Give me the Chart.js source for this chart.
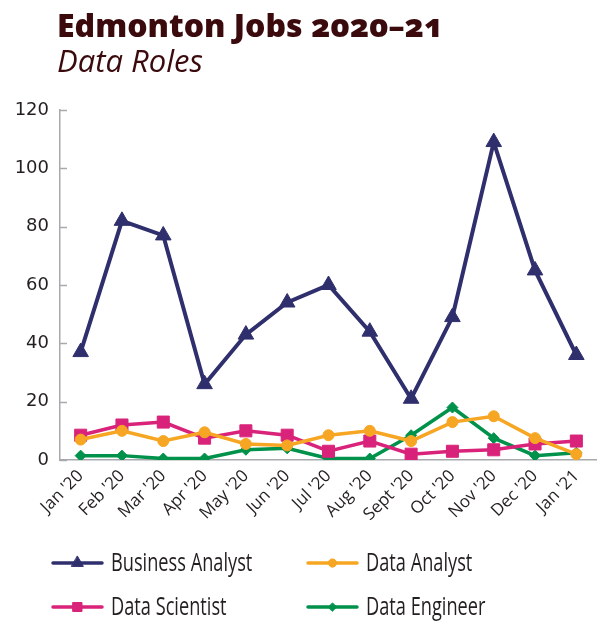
<!DOCTYPE html>
<html><head><meta charset="utf-8">
<script src="https://cdn.jsdelivr.net/npm/chart.js@4.4.1/dist/chart.umd.min.js"></script>
<style>
html,body{margin:0;padding:0;background:#fff;}
#wrap{position:relative;width:597px;height:624px;overflow:hidden}
#title{position:absolute;left:57px;top:3px;font-family:'Open Sans';font-weight:800;font-size:32px;color:#3b0a0d;font-variant-numeric:oldstyle-nums;line-height:44px;white-space:nowrap}
#sub{position:absolute;left:57px;top:39px;font-family:'Open Sans';font-style:italic;font-size:31px;color:#3b0a0d;line-height:42px;white-space:nowrap}
canvas{position:absolute;left:0;top:0}
</style></head><body>
<div id="wrap"><canvas id="c" width="597" height="624"></canvas><div id="title">Edmonton Jobs 2020–21</div><div id="sub">Data Roles</div></div>
<script>
const months = ["Jan '20","Feb '20","Mar '20","Apr '20","May '20","Jun '20","Jul '20","Aug '20","Sept '20","Oct '20","Nov '20","Dec '20","Jan '21"];
const businessAnalyst = [37, 82, 77, 26, 43, 54, 60, 44, 21, 49, 109, 65, 36];
const dataAnalyst     = [7, 10, 6.5, 9.5, 5.5, 5, 8.5, 10, 6.5, 13, 15, 7.5, 2];
const dataScientist   = [8.5, 12, 13, 7.5, 10, 8.5, 3, 6.5, 2, 3, 3.5, 5.5, 6.5];
const dataEngineer    = [1.5, 1.5, 0.5, 0.5, 3.5, 4, 0.5, 0.5, 8.5, 18, 7.5, 1.5, 2.5];
const yTicks = [0, 20, 40, 60, 80, 100, 120];

const TXT = '#231f20';
const AXIS = '#a7a9ac';

function ds(label, data, color, style, radius, width) {
  return { label, data, borderColor: color, backgroundColor: color, pointBackgroundColor: color,
    pointBorderColor: color, pointStyle: style, pointRadius: radius, pointHoverRadius: radius,
    pointBorderWidth: 1, borderWidth: width, tension: 0, fill: false };
}

const legendPlugin = {
  id: 'customLegend',
  afterDraw(chart) {
    const ctx = chart.ctx;
    const spots = [[53, 563], [308, 563], [53, 607], [308, 607]];
    chart.data.datasets.forEach((d, i) => {
      const [x, y] = spots[i];
      ctx.save();
      ctx.strokeStyle = d.borderColor;
      ctx.lineWidth = 3.5;
      ctx.lineCap = 'round';
      ctx.beginPath(); ctx.moveTo(x, y); ctx.lineTo(x + 49, y); ctx.stroke();
      ctx.fillStyle = d.borderColor;
      ctx.lineWidth = 1;
      Chart.helpers.drawPoint(ctx, { pointStyle: d.pointStyle, radius: d.pointRadius * 0.75, rotation: 0, borderWidth: 1 }, x + 24.5, y);
      ctx.fillStyle = TXT;
      ctx.font = '26px "Open Sans"';
      ctx.textBaseline = 'middle';
      ctx.translate(x + 58, y + 1);
      ctx.scale(0.7, 1);
      ctx.fillText(d.label, 0, 0);
      ctx.restore();
    });
  }
};

const tickPlugin = {
  id: 'innerTicks',
  afterDraw(chart) {
    const ctx = chart.ctx, ys = chart.scales.y, left = chart.chartArea.left;
    ctx.save();
    ctx.strokeStyle = AXIS; ctx.lineWidth = 1.5;
    ys.ticks.forEach(t => {
      const p = Math.round(ys.getPixelForValue(t.value)) + 0.5;
      ctx.beginPath(); ctx.moveTo(left, p); ctx.lineTo(left + 7, p); ctx.stroke();
    });
    ctx.restore();
  }
};

new Chart(document.getElementById('c'), {
  type: 'line',
  data: {
    labels: months,
    datasets: [
      ds('Business Analyst', businessAnalyst, '#302f6d', 'triangle', 9, 4),
      ds('Data Analyst', dataAnalyst, '#f6a623', 'circle', 5.5, 3.5),
      ds('Data Scientist', dataScientist, '#d9237a', 'rect', 8.5, 3.5),
      ds('Data Engineer', dataEngineer, '#00914b', 'rectRot', 5.5, 3.5)
    ]
  },
  options: {
    responsive: false,
    animation: false,
    devicePixelRatio: 1,
    layout: { autoPadding: false, padding: { top: 110, left: 0, right: 0, bottom: 0 } },
    plugins: { legend: { display: false }, tooltip: { enabled: false }, title: { display: false } },
    scales: {
      x: {
        offset: true,
        grid: { display: true, drawOnChartArea: false, drawTicks: false, color: 'rgba(0,0,0,0)' },
        border: { display: true, color: AXIS, width: 1.5 },
        ticks: { color: TXT, font: { family: 'Open Sans', size: 17 }, minRotation: 45, maxRotation: 45, padding: 6, autoSkip: false },
        afterFit(s) { s.height = 164; s.paddingLeft = 0; s.paddingRight = 0; }
      },
      y: {
        min: 0, max: 120,
        afterBuildTicks(s) { s.ticks = yTicks.map(v => ({ value: v })); },
        grid: { display: true, drawOnChartArea: false, drawTicks: false, color: 'rgba(0,0,0,0)' },
        border: { display: true, color: AXIS, width: 1.5 },
        ticks: { color: TXT, font: { family: 'DejaVu Sans', size: 18 }, padding: 11 },
        afterFit(s) { s.width = 60; s.paddingTop = 0; s.paddingBottom = 0; }
      }
    }
  },
  plugins: [legendPlugin, tickPlugin]
});
</script>
</body></html>
